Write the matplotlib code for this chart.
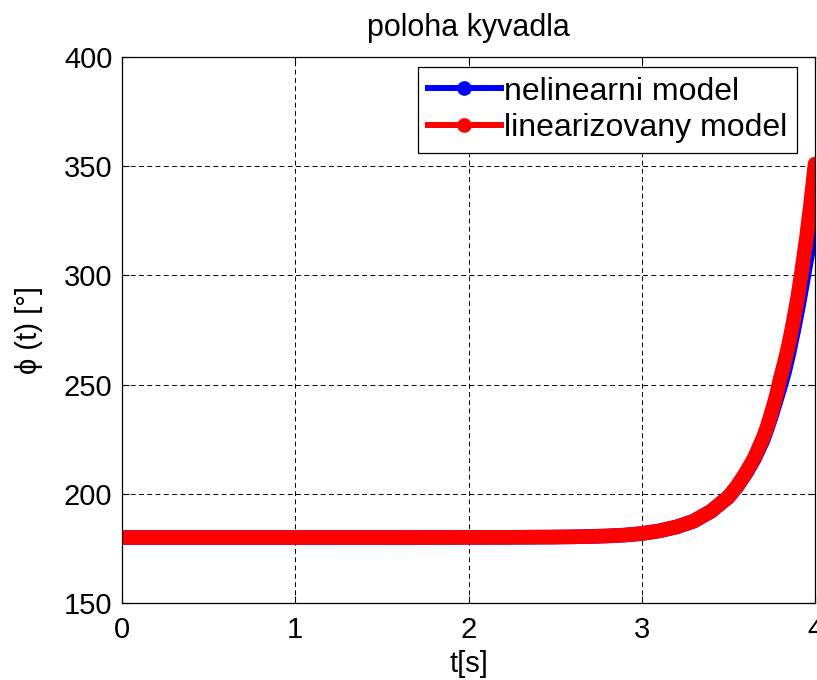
import matplotlib
matplotlib.use('Agg')
import matplotlib.pyplot as plt
from matplotlib.lines import Line2D

plt.rcParams['font.family'] = ['Liberation Sans', 'DejaVu Sans']

# Pendulum angle over time, nonlinear vs. linearized model
t = [0.0, 0.5, 1.0, 1.5, 2.0, 2.25, 2.5, 2.6, 2.7, 2.8, 2.9, 3.0, 3.1, 3.2, 3.3,
     3.4, 3.5, 3.55, 3.6, 3.65, 3.7, 3.725, 3.75, 3.775, 3.8, 3.825, 3.85, 3.875,
     3.9, 3.925, 3.95, 3.975, 4.0]
phi_lin = [180.0, 180.0, 180.0, 180.01, 180.03, 180.08, 180.2, 180.3, 180.45, 180.7,
           181.1, 181.8, 183.0, 184.8, 187.5, 192.0, 198.5, 203.5, 209.5, 216.5,
           225.5, 231.0, 237.5, 244.5, 253.0, 260.5, 269.0, 279.0,
           290.0, 303.0, 317.0, 333.0, 351.0]
phi_nonlin = [180.0, 180.0, 180.0, 180.01, 180.03, 180.08, 180.2, 180.3, 180.45, 180.7,
              181.1, 181.8, 183.0, 184.8, 187.5, 192.0, 198.5, 203.3, 209.2, 216.0,
              224.5, 230.0, 236.0, 242.5, 249.0, 256.0, 264.5, 274.0,
              284.0, 295.0, 306.5, 317.5, 327.0]

xticks = [0, 1, 2, 3, 4]
yticks = [150, 200, 250, 300, 350, 400]

fs = 21

fig = plt.figure(figsize=(8.17, 6.80), dpi=100)
ax = fig.add_axes([122 / 817, 77 / 680, 693 / 817, 546 / 680])

# thick band, the data are dense marker dots in the original run
ax.plot(t, phi_nonlin, color='#0000ff', lw=10.5, solid_capstyle='round',
        solid_joinstyle='round')
ax.plot(t, phi_lin, color='#ff0000', lw=10.5, solid_capstyle='round',
        solid_joinstyle='round')

ax.set_xlim(0, 4)
ax.set_ylim(150, 400)
ax.set_xticks(xticks)
ax.set_yticks(yticks)
ax.tick_params(direction='in', length=5, width=0.8, top=True, right=True,
               labelsize=fs, colors='black')
ax.tick_params(axis='x', pad=9)
ax.tick_params(axis='y', pad=7)
for s in ax.spines.values():
    s.set_linewidth(0.9)
ax.grid(True, color='black', lw=0.7, linestyle=(0, (5, 3.5)))

ax.set_title('poloha kyvadla', fontsize=22, pad=15)
ax.set_xlabel('t[s]', fontsize=fs, labelpad=5)
ax.set_ylabel('\u03d5 (t) [°]', fontsize=fs)
ax.yaxis.set_label_coords(-(122 - 43) / 693, 0.5)

handles = [
    Line2D([], [], color='#0000ff', lw=4.3, marker='o', ms=9.5),
    Line2D([], [], color='#ff0000', lw=4.3, marker='o', ms=9.5),
]
leg = ax.legend(handles, ['nelinearni model', 'linearizovany model'],
                loc='upper right', bbox_to_anchor=((797 - 122) / 693, 1 - 10 / 546),
                borderaxespad=0, fontsize=23, handlelength=2.3, handletextpad=0.1,
                labelspacing=0.2, borderpad=0.3, fancybox=False, framealpha=1)
leg.get_frame().set_edgecolor('black')
leg.get_frame().set_linewidth(0.9)

fig.savefig('out.png', dpi=100)
